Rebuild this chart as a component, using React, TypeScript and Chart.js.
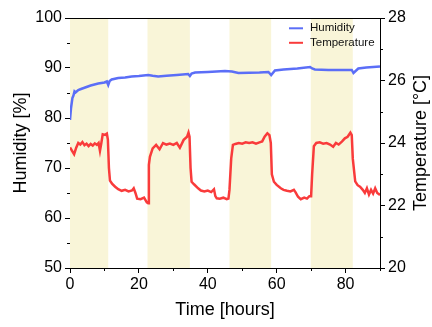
import React, { useEffect, useRef } from "react";
import { Chart, registerables } from "chart.js";

Chart.register(...registerables);

// ---- data ----
const humidityHours = [0, 0.3, 0.7, 1.0, 1.3, 1.6, 2.4, 3.2, 4.4, 6, 8.2, 10, 10.7, 11.1, 11.5, 12.1, 14, 16, 17.9, 20, 22.7, 24, 25.6, 28, 31, 34.3, 34.8, 35.3, 36.3, 40, 45, 47, 48.9, 52, 55, 57.6, 58.4, 59.5, 62, 66, 69.7, 70.3, 71.1, 75, 78, 81.8, 82.3, 83.7, 86, 90];
const humidityValues = [79.6, 82, 84, 84.5, 85.3, 85.1, 85.6, 85.8, 86.1, 86.5, 86.9, 87.1, 87.3, 86.6, 87.4, 87.7, 88.0, 88.1, 88.3, 88.4, 88.6, 88.45, 88.3, 88.45, 88.6, 88.8, 88.4, 88.9, 89.1, 89.2, 89.4, 89.3, 89.0, 89.05, 89.1, 89.2, 88.6, 89.5, 89.7, 89.9, 90.2, 89.9, 89.7, 89.6, 89.6, 89.6, 89.0, 89.9, 90.1, 90.3];

const temperatureHours = [0, 0.6, 1.2, 1.8, 2.4, 3.0, 3.6, 4.2, 4.8, 5.4, 6.0, 6.6, 7.2, 7.8, 8.3, 8.7, 9.1, 9.5, 10.2, 10.7, 11.0, 11.3, 11.6, 12.2, 13.1, 14, 15, 16, 17, 18, 18.5, 19, 19.5, 20.5, 21.5, 22.3, 22.7, 22.9, 23.2, 24, 25, 26, 27, 28, 29, 30, 31, 31.9, 33, 34.0, 34.4, 34.7, 35.0, 35.3, 36, 37.2, 38, 39, 40, 41, 41.8, 42.2, 42.6, 43.5, 44.5, 45.5, 46.0, 46.3, 46.8, 47.3, 48, 49, 50, 51, 52, 53, 54, 55, 55.8, 56.5, 57.3, 57.9, 58.3, 58.6, 59.2, 60, 61.2, 62, 63, 64, 65, 65.5, 66.2, 67, 68, 68.8, 69.5, 70.0, 70.3, 70.8, 71.5, 72.5, 73.5, 74.5, 75.5, 76.4, 77.2, 78, 79, 79.8, 80.6, 81.4, 81.8, 82.1, 82.8, 83.5, 84.2, 85, 85.6, 86.2, 86.8, 87.4, 88, 88.6, 89.2, 90];
const temperatureValues = [23.86, 23.75, 23.64, 23.85, 24.0, 23.95, 24.03, 23.93, 23.98, 23.9, 23.97, 23.92, 23.99, 23.94, 24.0, 23.75, 24.0, 24.28, 24.26, 24.3, 24.1, 23.2, 22.8, 22.7, 22.6, 22.52, 22.47, 22.5, 22.45, 22.48, 22.55, 22.4, 22.22, 22.2, 22.25, 22.1, 22.07, 23.3, 23.56, 23.83, 23.94, 23.8, 24.0, 23.95, 23.98, 23.94, 24.0, 23.85, 24.1, 24.2, 24.33, 24.2, 23.2, 22.76, 22.68, 22.55, 22.48, 22.45, 22.48, 22.43, 22.52, 22.3, 22.23, 22.22, 22.25, 22.2, 22.22, 22.5, 23.5, 23.94, 23.97, 24.0, 23.98, 24.02, 24.0, 24.02, 23.98, 24.02, 24.05, 24.2, 24.31, 24.25, 24.0, 23.0, 22.76, 22.66, 22.55, 22.5, 22.47, 22.45, 22.5, 22.42, 22.28, 22.2, 22.25, 22.22, 22.3, 22.3, 23.0, 23.9, 24.0, 24.02, 23.98, 24.0, 23.95, 23.88, 24.0, 23.95, 24.05, 24.15, 24.2, 24.33, 24.25, 23.5, 22.77, 22.65, 22.6, 22.5, 22.4, 22.55, 22.35, 22.5, 22.38, 22.55, 22.4, 22.34];

const bandStarts = [0, 22.5, 46.3, 69.9];
const bandEnds = [11.1, 34.8, 58.4, 82.1];

const xMinorTicks = [10, 30, 50, 70, 90];
const yMinorTicks = [55, 65, 75, 85, 95];
const y2MinorTicks = [21, 23, 25, 27];

const legendLabels = ["Humidity", "Temperature"];
const xTitle = "Time [hours]";
const yTitle = "Humidity [%]";
const y2Title = "Temperature [\u00B0C]";

const HUM_COLOR = "#5b6ef7";
const TEMP_COLOR = "#f93b3b";
const BAND_COLOR = "#f9f5d8";
const FONT = "'Liberation Sans', Arial, sans-serif";

const decorPlugin = {
  id: "decor",
  beforeDatasetsDraw(chart: any) {
    const { ctx, chartArea } = chart;
    const xs = chart.scales.x;
    ctx.save();
    ctx.fillStyle = BAND_COLOR;
    for (let i = 0; i < bandStarts.length; i++) {
      const x0 = Math.max(xs.getPixelForValue(bandStarts[i]), chartArea.left);
      const x1 = Math.min(xs.getPixelForValue(bandEnds[i]), chartArea.right);
      ctx.fillRect(x0, chartArea.top, x1 - x0, chartArea.bottom - chartArea.top);
    }
    ctx.restore();
  },
  afterDraw(chart: any) {
    const { ctx, chartArea } = chart;
    const { left, right, top, bottom } = chartArea;
    const xs = chart.scales.x;
    const ys = chart.scales.y;
    const y2s = chart.scales.y2;
    ctx.save();
    ctx.strokeStyle = "#000";
    ctx.lineWidth = 1;
    // top frame line
    ctx.beginPath();
    ctx.moveTo(left, Math.round(top) + 0.5);
    ctx.lineTo(right, Math.round(top) + 0.5);
    ctx.stroke();
    // minor ticks
    ctx.beginPath();
    xMinorTicks.forEach((v) => {
      const px = Math.round(xs.getPixelForValue(v)) + 0.5;
      ctx.moveTo(px, bottom);
      ctx.lineTo(px, bottom + 3);
    });
    yMinorTicks.forEach((v) => {
      const py = Math.round(ys.getPixelForValue(v)) + 0.5;
      ctx.moveTo(left - 3, py);
      ctx.lineTo(left, py);
    });
    y2MinorTicks.forEach((v) => {
      const py = Math.round(y2s.getPixelForValue(v)) + 0.5;
      ctx.moveTo(right, py);
      ctx.lineTo(right + 3, py);
    });
    ctx.stroke();

    // right axis title (reads bottom to top)
    ctx.fillStyle = "#000";
    ctx.font = `18px ${FONT}`;
    ctx.textAlign = "center";
    ctx.textBaseline = "middle";
    ctx.save();
    ctx.translate(chart.width - 10.5, (top + bottom) / 2);
    ctx.rotate(-Math.PI / 2);
    ctx.fillText(y2Title, 0, 0);
    ctx.restore();

    // legend
    const colors = [HUM_COLOR, TEMP_COLOR];
    ctx.font = `11.5px ${FONT}`;
    ctx.textAlign = "left";
    legendLabels.forEach((lab, i) => {
      const ly = top + 10.3 + i * 14.5;
      ctx.strokeStyle = colors[i];
      ctx.lineWidth = 2;
      ctx.beginPath();
      ctx.moveTo(right - 91, ly);
      ctx.lineTo(right - 77, ly);
      ctx.stroke();
      ctx.fillStyle = "#111";
      ctx.fillText(lab, right - 70, ly);
    });
    ctx.restore();
  },
};

export default function App() {
  const canvasRef = useRef<HTMLCanvasElement | null>(null);

  useEffect(() => {
    if (!canvasRef.current) return;
    const humData = humidityHours.map((h, i) => ({ x: h, y: humidityValues[i] }));
    const tempData = temperatureHours.map((h, i) => ({ x: h, y: temperatureValues[i] }));
    const tickFont = { family: FONT, size: 16 };
    const titleFont = { family: FONT, size: 18 };
    const chart = new Chart(canvasRef.current, {
      type: "line",
      data: {
        datasets: [
          {
            label: legendLabels[0],
            data: humData,
            yAxisID: "y",
            borderColor: HUM_COLOR,
            backgroundColor: HUM_COLOR,
            borderWidth: 2.5,
            pointRadius: 0,
            tension: 0,
          },
          {
            label: legendLabels[1],
            data: tempData,
            yAxisID: "y2",
            borderColor: TEMP_COLOR,
            backgroundColor: TEMP_COLOR,
            borderWidth: 2.5,
            pointRadius: 0,
            tension: 0,
          },
        ],
      },
      options: {
        animation: false,
        responsive: false,
        devicePixelRatio: 1,
        layout: { padding: { top: 18, left: 0, right: 0, bottom: 0 } },
        plugins: {
          legend: { display: false },
          tooltip: { enabled: false },
        },
        scales: {
          x: {
            type: "linear",
            min: 0,
            max: 90,
            ticks: {
              stepSize: 20,
              includeBounds: false,
              font: tickFont,
              color: "#000",
              padding: 2,
              maxRotation: 0,
            },
            grid: {
              drawOnChartArea: false,
              drawTicks: true,
              tickLength: 5,
              tickColor: "#000",
              tickWidth: 1,
            },
            border: { display: true, color: "#000", width: 1 },
            title: {
              display: true,
              text: xTitle,
              font: titleFont,
              color: "#000",
              padding: { top: 0, bottom: 6 },
            },
            afterFit: (s: any) => {
              s.height = 59;
            },
          },
          y: {
            type: "linear",
            position: "left",
            min: 50,
            max: 100,
            ticks: { stepSize: 10, font: tickFont, color: "#000", padding: 3 },
            grid: {
              drawOnChartArea: false,
              drawTicks: true,
              tickLength: 5,
              tickColor: "#000",
              tickWidth: 1,
            },
            border: { display: true, color: "#000", width: 1 },
            title: {
              display: true,
              text: yTitle,
              font: titleFont,
              color: "#000",
              padding: { top: 10.5, bottom: 0 },
            },
            afterFit: (s: any) => {
              s.width = 70;
            },
          },
          y2: {
            type: "linear",
            position: "right",
            min: 20,
            max: 28,
            ticks: { stepSize: 2, font: tickFont, color: "#000", padding: 3 },
            grid: {
              drawOnChartArea: false,
              drawTicks: true,
              tickLength: 5,
              tickColor: "#000",
              tickWidth: 1,
            },
            border: { display: true, color: "#000", width: 1 },
            afterFit: (s: any) => {
              s.width = 52;
            },
          },
        },
      } as any,
      plugins: [decorPlugin],
    });
    return () => chart.destroy();
  }, []);

  return (
    <div style={{ position: "absolute", left: 0, top: 0, width: 432, height: 327, background: "#fff" }}>
      <canvas ref={canvasRef} width={432} height={327} style={{ width: 432, height: 327, display: "block" }} />
    </div>
  );
}
